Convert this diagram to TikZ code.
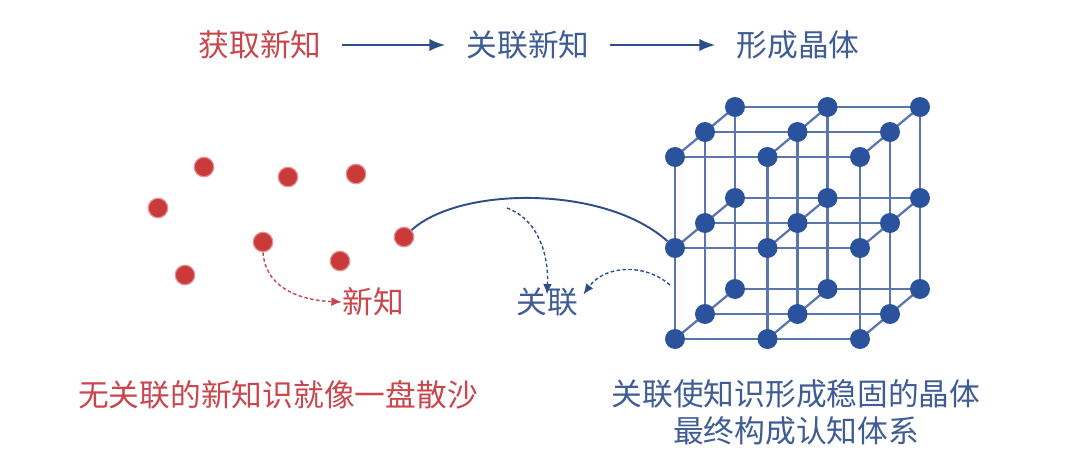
\documentclass[tikz,border=0pt]{standalone}
\usepackage{fontspec}
\newfontfamily\cjk{Noto Sans CJK SC}
\usetikzlibrary{arrows.meta}
\definecolor{redtxt}{HTML}{C9474C}
\definecolor{reddot}{HTML}{CB3A3A}
\definecolor{bluetxt}{HTML}{3F5C95}
\definecolor{bluedot}{HTML}{2B529C}
\definecolor{blueline}{HTML}{5A76AC}
\definecolor{arrowblue}{HTML}{2E4D8A}
\tikzset{
  lbl/.style={inner sep=0pt, font=\cjk\fontsize{17.5}{20}\selectfont},
  rdot/.style={circle, fill=reddot, draw=reddot!55!white, line width=0.7pt, minimum size=0.39cm, inner sep=0pt},
  bdot/.style={circle, fill=bluedot, minimum size=0.4cm, inner sep=0pt},
  lattice/.style={draw=blueline, line width=1.3pt},
  flow/.style={draw=arrowblue, line width=1.1pt, -{Latex[length=9pt,width=7pt]}, shorten <=0.4cm, shorten >=0.42cm},
  dashb/.style={draw=arrowblue, line width=0.8pt, dash pattern=on 2pt off 1.4pt, -{Latex[length=6pt,width=5pt]}},
  dashr/.style={draw=redtxt, line width=0.8pt, dash pattern=on 2pt off 1.4pt, -{Latex[length=6pt,width=5pt]}}
}
\begin{document}
\begin{tikzpicture}[x=0.02cm,y=-0.02cm]
\useasboundingbox (0,0) rectangle (1080,457);
% top flow
\node[lbl, text=redtxt] (t1) at (260,45) {获取新知};
\node[lbl, text=bluetxt] (t2) at (528,45) {关联新知};
\node[lbl, text=bluetxt] (t3) at (798,45) {形成晶体};
\draw[flow] (t1) -- (t2);
\draw[flow] (t2) -- (t3);
% red dots
\node[rdot] (r1) at (204,167) {};
\node[rdot] (r2) at (288,177) {};
\node[rdot] (r3) at (356,174) {};
\node[rdot] (r4) at (158,208) {};
\node[rdot] (r5) at (263,242) {};
\node[rdot] (r6) at (404,237) {};
\node[rdot] (r7) at (340,261) {};
\node[rdot] (r8) at (185,275) {};
\node[lbl, text=redtxt] (xz) at (373,302) {新知};
\draw[dashr] (r5.south) .. controls (265,285) and (295,300) .. (xz.west);
% lattice coordinates
\foreach \i in {0,1,2}{
 \foreach \j in {0,1,2}{
  \foreach \k in {0,1,2}{
   \coordinate (c-\i-\j-\k) at ({675+92.5*\i+30*\k},{157+91*\j-25*\k});
 }}}
\foreach \a/\b in {0/1,1/2}{
 \foreach \p in {0,1,2}{
  \foreach \q in {0,1,2}{
   \draw[lattice] (c-\a-\p-\q) -- (c-\b-\p-\q);
   \draw[lattice] (c-\p-\a-\q) -- (c-\p-\b-\q);
   \draw[lattice] (c-\p-\q-\a) -- (c-\p-\q-\b);
 }}}
\foreach \i in {0,1,2}{
 \foreach \j in {0,1,2}{
  \foreach \k in {0,1,2}{
   \node[bdot] (n-\i-\j-\k) at (c-\i-\j-\k) {};
 }}}
% association
\node[lbl, text=bluetxt] (gl) at (547,302) {关联};
\draw[draw=arrowblue, line width=1.1pt] (r6) .. controls (460,186) and (605,185) .. (n-0-1-0);
\coordinate (d1) at (507,208);
\coordinate (d2) at (670,285);
\draw[dashb] (d1) .. controls (535,218) and (549,250) .. ([yshift=-4pt]gl.north);
\draw[dashb] (d2) .. controls (645,263) and (605,265) .. ([xshift=3pt,yshift=-4pt]gl.north east);
% bottom captions
\node[lbl, text=redtxt] (c1) at (278,395) {无关联的新知识就像一盘散沙};
\node[lbl, text=bluetxt] (c2) at (796,394) {关联使知识形成稳固的晶体};
\node[lbl, text=bluetxt] (c3) at (796,431) {最终构成认知体系};
\end{tikzpicture}
\end{document}
